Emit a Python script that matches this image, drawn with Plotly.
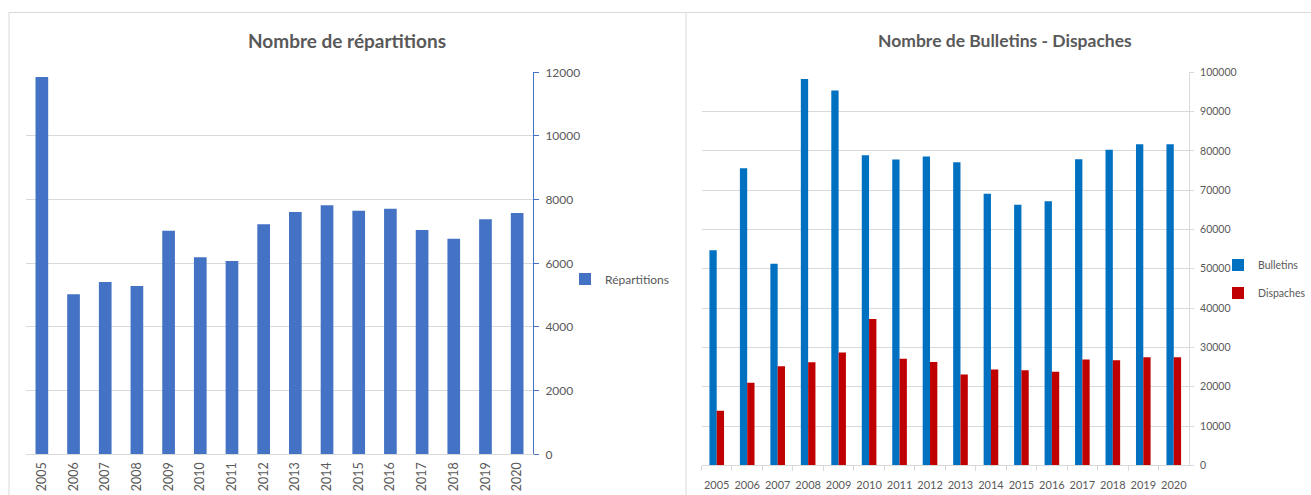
import plotly.graph_objects as go

years = [str(y) for y in range(2005, 2021)]
repartitions = [11850, 5030, 5410, 5290, 7020, 6190, 6070, 7230, 7610, 7820, 7650, 7710, 7050, 6770, 7380, 7580]
bulletins = [54700, 75600, 51300, 98300, 95400, 78900, 77800, 78600, 77100, 69100, 66300, 67200, 77900, 80300, 81700, 81700]
dispaches = [13900, 21000, 25200, 26200, 28700, 37200, 27100, 26300, 23100, 24400, 24200, 23800, 26900, 26700, 27500, 27500]

left_title = "Nombre de répartitions"
right_title = "Nombre de Bulletins - Dispaches"

W, H = 1311, 495
def px(x):
    return x / W
def py(y):
    return 1 - y / H

FONT = "Lato"
TXT = "#595959"
GRID = "#D9D9D9"

fig = go.Figure()

fig.add_trace(go.Bar(
    x=years, y=repartitions, name="Répartitions",
    marker=dict(color="#4472C4", line=dict(width=0)),
    width=0.4, offset=-0.2,
    xaxis="x", yaxis="y", legend="legend",
))
fig.add_trace(go.Bar(
    x=years, y=bulletins, name="Bulletins",
    marker=dict(color="#0070C0", line=dict(width=0)),
    width=0.24, offset=-0.24,
    xaxis="x2", yaxis="y2", legend="legend2", legendgroup="b",
))
fig.add_trace(go.Bar(
    x=years, y=dispaches, name="Dispaches",
    marker=dict(color="#C00000", line=dict(width=0)),
    width=0.24, offset=0.0,
    xaxis="x2", yaxis="y2", legend="legend2", legendgroup="d",
))

fig.update_layout(
    width=W, height=H,
    margin=dict(l=0, r=0, t=0, b=0, autoexpand=False),
    paper_bgcolor="white", plot_bgcolor="white",
    font=dict(family=FONT, color=TXT, size=12),
    showlegend=True,
    xaxis=dict(
        domain=[px(26), px(533)], anchor="y", type="category",
        tickangle=-90, showline=True, linecolor=GRID, linewidth=1,
        ticks="", showgrid=False, tickfont=dict(size=12.5, color=TXT),
        ticklabelstandoff=2,
    ),
    yaxis=dict(
        domain=[py(454.3), py(72.3)], anchor="x", side="right",
        range=[0, 12000], dtick=2000, tickformat="d",
        showgrid=True, gridcolor=GRID, gridwidth=1,
        zeroline=False, showline=True, linecolor="#4472C4", linewidth=1,
        ticks="outside", ticklen=5, tickcolor="#4472C4",
        tickfont=dict(size=12, color=TXT), ticklabelstandoff=4,
    ),
    xaxis2=dict(
        domain=[px(701.5), px(1189)], anchor="y2", type="category",
        tickangle=0, showline=True, linecolor=GRID, linewidth=1,
        ticks="outside", tickson="boundaries", ticklen=5, tickcolor=GRID,
        showgrid=False, tickfont=dict(size=11, color=TXT), ticklabelstandoff=9,
    ),
    yaxis2=dict(
        domain=[py(465.3), py(72.3)], anchor="x2", side="right",
        range=[0, 100000], dtick=10000, tickformat="d",
        showgrid=True, gridcolor=GRID, gridwidth=1,
        zeroline=False, showline=True, linecolor=GRID, linewidth=1,
        ticks="outside", ticklen=4, tickcolor=GRID,
        tickfont=dict(size=10.5, color=TXT), ticklabelstandoff=4,
    ),
    legend=dict(
        x=px(565), y=py(279), xanchor="left", yanchor="middle",
        font=dict(size=12, color=TXT), bgcolor="rgba(0,0,0,0)", itemwidth=30,
    ),
    legend2=dict(
        x=px(1218), y=py(279), xanchor="left", yanchor="middle",
        font=dict(size=10.5, color=TXT), bgcolor="rgba(0,0,0,0)", itemwidth=30,
        tracegroupgap=9,
    ),
    annotations=[
        dict(text=left_title, x=px(347), y=py(41), xref="paper", yref="paper",
             xanchor="center", yanchor="middle", showarrow=False,
             font=dict(size=19, color=TXT, family=FONT, weight="bold")),
        dict(text=right_title, x=px(1005), y=py(41), xref="paper", yref="paper",
             xanchor="center", yanchor="middle", showarrow=False,
             font=dict(size=17.5, color=TXT, family=FONT, weight="bold")),
    ],
    shapes=[
        dict(type="line", xref="paper", yref="paper", x0=px(9), x1=1, y0=py(12.5), y1=py(12.5),
             line=dict(color=GRID, width=1)),
        dict(type="line", xref="paper", yref="paper", x0=px(9), x1=px(9), y0=py(12.5), y1=0,
             line=dict(color=GRID, width=1)),
        dict(type="line", xref="paper", yref="paper", x0=px(686), x1=px(686), y0=py(12.5), y1=0,
             line=dict(color=GRID, width=1)),
    ],
)

fig.write_html("out.html", config={"displayModeBar": False},
               post_script="document.body.style.margin='0';")
